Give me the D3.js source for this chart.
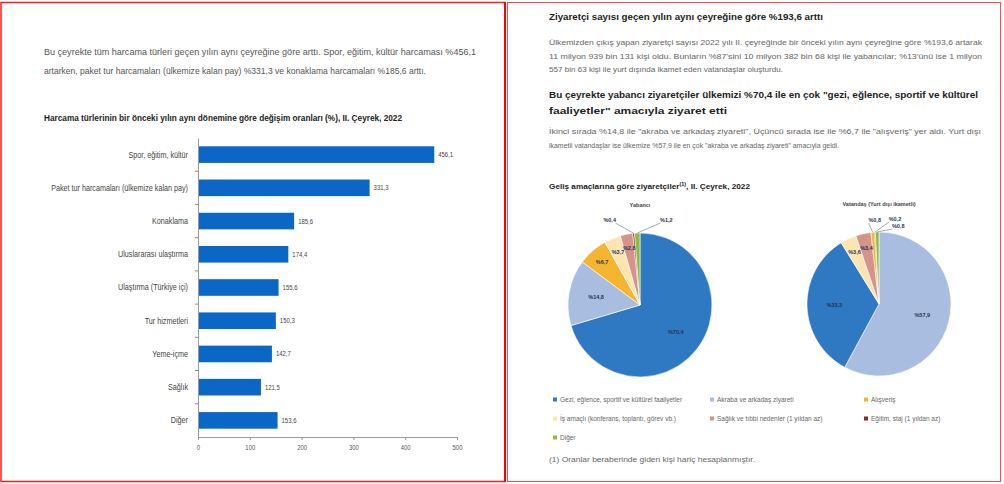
<!DOCTYPE html>
<html><head><meta charset="utf-8">
<script src="https://cdn.jsdelivr.net/npm/d3@7"></script>
<style>
html,body{margin:0;padding:0;background:#fff;}
svg{display:block;font-family:"Liberation Sans",Arial,sans-serif;}
</style></head><body>
<svg id="c" width="1004" height="484"></svg>
<script>
// Harcama türlerinin bir önceki yılın aynı dönemine göre değişim oranları (%)
const spendCategories = ["Spor, eğitim, kültür", "Paket tur harcamaları (ülkemize kalan pay)", "Konaklama",
  "Uluslararası ulaştırma", "Ulaştırma (Türkiye içi)", "Tur hizmetleri", "Yeme-içme", "Sağlık", "Diğer"];
const spendChange = [456.1, 331.3, 185.6, 174.4, 155.6, 150.3, 142.7, 121.5, 153.6];
const spendTicks = [0, 100, 200, 300, 400, 500];

// Geliş amaçlarına göre ziyaretçiler (%)
const purposes = ["Gezi, eğlence, sportif ve kültürel faaliyetler", "Akraba ve arkadaş ziyareti", "Alışveriş",
  "İş amaçlı (konferans, toplantı, görev vb.)", "Sağlık ve tıbbi nedenler (1 yıldan az)",
  "Eğitim, staj (1 yıldan az)", "Diğer"];
const foreignShares = [70.4, 14.8, 6.7, 3.7, 2.8, 0.4, 1.2];
const citizenShares = [33.3, 57.9, 0.8, 3.6, 3.4, 0.2, 0.8];
// slice sequence, clockwise from 12 o'clock
const foreignOrder = [0, 1, 2, 3, 4, 5, 6];
const citizenOrder = [1, 0, 3, 4, 2, 5, 6];

const purposeColors = ["#2f78c2", "#a9bde0", "#f6b530", "#fde5b3", "#d6938a", "#8e2424", "#8cbb3e"];
const comma = v => d3.format(".1f")(v).replace(".", ",");

const svg = d3.select("#c");

// panel frames
svg.append("rect").attr("x", 1).attr("y", 2.5).attr("width", 504).attr("height", 479)
  .attr("fill", "none").attr("stroke", "#ff1a1a").attr("stroke-width", 1.5);
svg.append("line").attr("x1", 505).attr("x2", 505).attr("y1", 2).attr("y2", 482)
  .attr("stroke", "#ff0000").attr("stroke-width", 2);
svg.append("rect").attr("x", 507.5).attr("y", 2.5).attr("width", 493).attr("height", 479)
  .attr("fill", "none").attr("stroke", "#ff4a4a").attr("stroke-width", 1);

// text helper: one line, optionally stretched to a given width
function textLine(x, y, str, width, size, weight, color) {
  const t = svg.append("text").attr("x", x).attr("y", y)
    .attr("font-size", size).attr("font-weight", weight || "normal")
    .attr("fill", color || "#444").text(str);
  if (width) t.attr("textLength", width).attr("lengthAdjust", "spacingAndGlyphs");
  return t;
}
// condensed look for a text node
function condense(sel, k) {
  sel.each(function () {
    const w = this.getComputedTextLength();
    d3.select(this).attr("textLength", w * k).attr("lengthAdjust", "spacingAndGlyphs");
  });
}

// ---------- left panel ----------
textLine(44, 55, "Bu çeyrekte tüm harcama türleri geçen yılın aynı çeyreğine göre arttı. Spor, eğitim, kültür harcaması %456,1", 432, 9.5, "normal", "#555");
textLine(44, 74, "artarken, paket tur harcamaları (ülkemize kalan pay) %331,3 ve konaklama harcamaları %185,6 arttı.", 382, 9.5, "normal", "#555");
textLine(44, 121, "Harcama türlerinin bir önceki yılın aynı dönemine göre değişim oranları (%), II. Çeyrek, 2022", 358, 9, "bold", "#222");

const x = d3.scaleLinear().domain([0, 500]).range([198, 457]);
const y = d3.scaleBand().domain(spendCategories).range([138, 437]).paddingInner(0.5).paddingOuter(0.25);
const spend = spendCategories.map((c, i) => ({c, v: spendChange[i]}));

const bars = svg.append("g");
bars.selectAll("rect").data(spend).join("rect")
  .attr("x", x(0)).attr("y", d => y(d.c))
  .attr("width", d => x(d.v) - x(0)).attr("height", y.bandwidth())
  .attr("fill", "#0a67c5");
const valueLabels = bars.selectAll("text").data(spend).join("text")
  .attr("x", d => x(d.v) + 4).attr("y", d => y(d.c) + y.bandwidth() / 2)
  .attr("dy", "0.35em").attr("font-size", 7).attr("fill", "#444")
  .text(d => comma(d.v));
condense(valueLabels, 0.85);

// category axis
const yAxis = svg.append("g").attr("transform", `translate(${x(0)},0)`)
  .call(d3.axisLeft(y).tickSize(0).tickPadding(10));
yAxis.select(".domain").attr("stroke", "#999");
yAxis.selectAll("text").attr("font-size", 9).attr("fill", "#444");
condense(yAxis.selectAll("text"), 0.8);
// separators between categories
const step = y.step();
svg.append("g").selectAll("line").data(spendCategories.slice(1)).join("line")
  .attr("x1", x(0) - 3).attr("x2", x(0))
  .attr("y1", d => y(d) - step * y.paddingInner() / 2).attr("y2", d => y(d) - step * y.paddingInner() / 2)
  .attr("stroke", "#b08070").attr("stroke-width", 1);

// value axis
const xAxis = svg.append("g").attr("transform", `translate(0,${y.range()[1]})`)
  .call(d3.axisBottom(x).tickValues(spendTicks).tickSize(3).tickPadding(5));
xAxis.select(".domain").attr("stroke", "#999");
xAxis.selectAll("line").attr("stroke", "#999");
xAxis.selectAll("text").attr("font-size", 7).attr("fill", "#555");
condense(xAxis.selectAll("text"), 0.85);

// ---------- right panel ----------
textLine(549, 20, "Ziyaretçi sayısı geçen yılın aynı çeyreğine göre  %193,6 arttı", 274, 9.5, "bold", "#222");
textLine(549, 45, "Ülkemizden çıkış yapan ziyaretçi sayısı 2022 yılı II. çeyreğinde bir önceki yılın aynı çeyreğine göre %193,6 artarak", 433, 7.5, "normal", "#666");
textLine(549, 59, "11 milyon 939 bin 131 kişi oldu. Bunların %87'sini 10 milyon 382 bin 68 kişi ile yabancılar; %13'ünü ise 1 milyon", 433, 7.5, "normal", "#666");
textLine(549, 72, "557 bin 63 kişi ile yurt dışında ikamet eden vatandaşlar oluşturdu.", 234, 7.5, "normal", "#666");

textLine(549, 98, "Bu çeyrekte yabancı ziyaretçiler ülkemizi %70,4 ile en çok \"gezi, eğlence, sportif ve kültürel", 429, 9.2, "bold", "#222");
textLine(549, 114, "faaliyetler\" amacıyla ziyaret etti", 178, 9.2, "bold", "#222");
textLine(549, 134, "İkinci sırada %14,8 ile \"akraba ve arkadaş ziyareti\", Üçüncü sırada ise ile %6,7 ile \"alışveriş\" yer aldı. Yurt dışı", 432, 7.5, "normal", "#666");
textLine(549, 148, "ikametli vatandaşlar ise ülkemize %57,9 ile en çok \"akraba ve arkadaş ziyareti\" amacıyla geldi.", 290, 7.5, "normal", "#666");

const title = svg.append("text").attr("x", 549).attr("y", 189).attr("font-size", 7.5)
  .attr("font-weight", "bold").attr("fill", "#222")
  .attr("textLength", 201).attr("lengthAdjust", "spacingAndGlyphs");
title.append("tspan").text("Geliş amaçlarına göre ziyaretçiler");
title.append("tspan").attr("font-size", 5).attr("dy", -3).text("(1)");
title.append("tspan").attr("dy", 3).text(", II. Çeyrek, 2022");

// pies
const pies = [
  {name: "Yabancı", shares: foreignShares, order: foreignOrder, cx: 640, cy: 305,
   nudges: [[-24, -11], [29, -11]]},
  {name: "Vatandaş (Yurt dışı ikametli)", shares: citizenShares, order: citizenOrder, cx: 879, cy: 304,
   nudges: [[2, -10], [20, -11], [21, -4]]}
];
const R = 72;
const arc = d3.arc().innerRadius(0).outerRadius(R);
const pieLayout = d3.pie().sort(null).value(d => d.v);

pies.forEach(p => {
  const g = svg.append("g").attr("transform", `translate(${p.cx},${p.cy})`);
  g.append("text").attr("x", 0).attr("y", -R - 26).attr("text-anchor", "middle")
    .attr("font-size", 5.5).attr("font-weight", "bold").attr("fill", "#444").text(p.name);
  const data = p.order.map(i => ({i, v: p.shares[i]}));
  const arcs = pieLayout(data);
  g.selectAll("path").data(arcs).join("path")
    .attr("d", arc).attr("fill", d => purposeColors[d.data.i])
    .attr("stroke", "#fff").attr("stroke-width", 0.6);

  let k = 0;
  arcs.forEach(a => {
    const v = a.data.v;
    const mid = (a.startAngle + a.endAngle) / 2;
    const lbl = "%" + comma(v);
    if (v >= 2) {
      const rr = v >= 10 ? R * 0.62 : R * 0.8;
      const c = d3.arc().innerRadius(rr).outerRadius(rr).centroid(a);
      g.append("text").attr("x", c[0]).attr("y", c[1]).attr("dy", "0.35em")
        .attr("text-anchor", "middle").attr("font-size", 5.5).attr("font-weight", "bold")
        .attr("fill", "#1f3558").text(lbl);
    } else {
      const ox = Math.sin(mid) * R, oy = -Math.cos(mid) * R;
      const [dx, dy] = p.nudges[k++];
      const lx = ox + dx, ly = oy + dy;
      g.append("line").attr("x1", ox).attr("y1", oy).attr("x2", lx - Math.sign(dx) * 6).attr("y2", ly + 1)
        .attr("stroke", "#555").attr("stroke-width", 0.5);
      g.append("text").attr("x", lx).attr("y", ly).attr("text-anchor", "middle")
        .attr("font-size", 5.5).attr("font-weight", "bold").attr("fill", "#1f3558").text(lbl);
    }
  });
});

// legend
const legendCols = [553, 710, 864];
const legendRows = [400, 419, 438];
const lg = svg.append("g");
purposes.forEach((name, i) => {
  const lx = legendCols[i % 3], ly = legendRows[Math.floor(i / 3)];
  lg.append("rect").attr("x", lx).attr("y", ly - 2.5).attr("width", 4).attr("height", 4)
    .attr("fill", purposeColors[i]);
  lg.append("text").attr("x", lx + 7).attr("y", ly).attr("dy", "0.35em")
    .attr("font-size", 6.5).attr("fill", "#666").text(name);
});
textLine(549, 462, "(1) Oranlar beraberinde giden kişi hariç hesaplanmıştır.", 206, 7.5, "normal", "#666");
</script>
</body></html>
